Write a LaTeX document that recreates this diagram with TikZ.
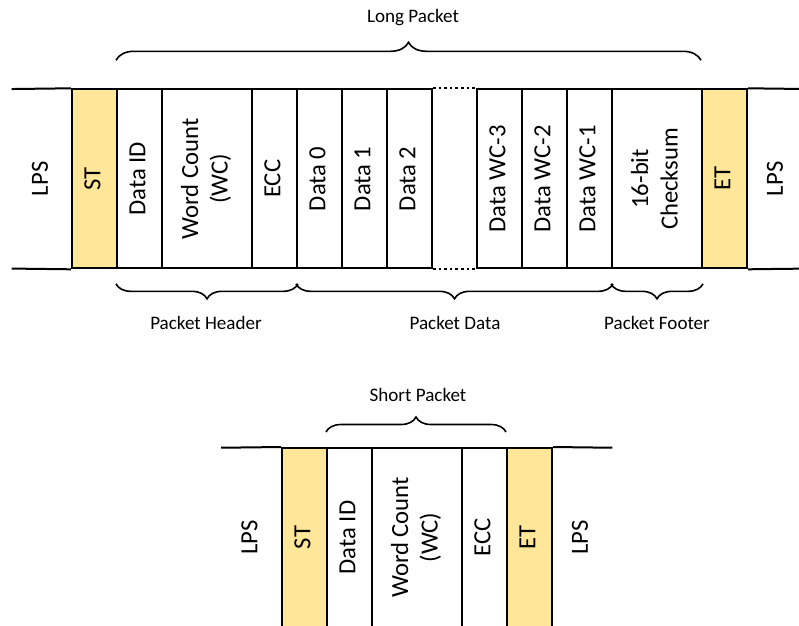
\documentclass[tikz,border=0pt]{standalone}
\usepackage{fontspec}
\setmainfont{Carlito}
\usepackage{graphicx}
\usetikzlibrary{decorations.pathreplacing}
\definecolor{stfill}{HTML}{FFE699}
\newcommand{\vtext}[1]{\rotatebox{90}{\begin{tabular}{@{}c@{}}#1\end{tabular}}}
\begin{document}
\begin{tikzpicture}[x=0.75pt,y=-0.75pt,
  bigfont/.style={font=\fontsize{18.5}{22.2}\selectfont},
  cellbox/.style={draw, line width=1.5pt, inner sep=0pt, minimum height=134.25pt, bigfont},
  narrow/.style={cellbox, minimum width=33.75pt},
  wide/.style={cellbox, minimum width=67.5pt},
  hilite/.style={fill=stfill},
  plain/.style={inner sep=0pt, minimum height=134.25pt, minimum width=45pt, bigfont},
  edge/.style={line width=1.5pt},
  gapline/.style={line width=1.5pt, dash pattern=on 2pt off 2.2pt},
  bracetop/.style={decorate, decoration={brace, amplitude=#1}, line width=1.2pt},
  bracebot/.style={decorate, decoration={brace, amplitude=#1, mirror}, line width=1.2pt},
  lbl/.style={font=\fontsize{14.3}{17}\selectfont, inner sep=0pt}
]
\useasboundingbox (0,0) rectangle (799,625);
\clip (0,0) rectangle (799,625);

% ---- Long packet ----
\node[plain] (lpsA) at (42,178.8) {\vtext{LPS}};
\node[narrow, hilite] (st) at (94.5,178.8) {\vtext{ST}};
\node[narrow] (did) at (139.5,178.8) {\vtext{Data ID}};
\node[wide] (wc) at (207,178.8) {\vtext{Word Count\\(WC)}};
\node[narrow] (ecc) at (274.5,178.8) {\vtext{ECC}};
\node[narrow] (d0) at (319.5,178.8) {\vtext{Data 0}};
\node[narrow] (d1) at (364.5,178.8) {\vtext{Data 1}};
\node[narrow] (d2) at (409.5,178.8) {\vtext{Data 2}};
\node[narrow] (w3) at (499.5,178.8) {\vtext{Data WC-3}};
\node[narrow] (w2) at (544.5,178.8) {\vtext{Data WC-2}};
\node[narrow] (w1) at (589.5,178.8) {\vtext{Data WC-1}};
\node[wide] (cs) at (657,178.8) {\vtext{16-bit\\Checksum}};
\node[narrow, hilite] (et) at (724.5,178.8) {\vtext{ET}};
\node[plain] (lpsB) at (777,178.8) {\vtext{LPS}};

\draw[edge] (lpsA.north west) -- (st.north west);
\draw[edge] (lpsA.south west) -- (st.south west);
\draw[gapline] (d2.north east) -- (w3.north west);
\draw[gapline] (d2.south east) -- (w3.south west);
\draw[edge] (et.north east) -- (lpsB.north east);
\draw[edge] (et.south east) -- (lpsB.south east);

\draw[bracetop=13.5pt] ([yshift=21pt]did.north west) -- ([yshift=21pt]et.north west);
\node[lbl] (lp) at (413,17.5) {Long Packet};

\draw[bracebot=11.25pt] ([yshift=-10.9pt]did.south west) -- ([yshift=-10.9pt]ecc.south east);
\draw[bracebot=11.25pt] ([yshift=-10.9pt]d0.south west) -- ([yshift=-10.9pt]w1.south east);
\draw[bracebot=11.25pt] ([yshift=-10.9pt]cs.south west) -- ([yshift=-10.9pt]cs.south east);
\node[lbl] (ph) at (206,323) {Packet Header};
\node[lbl] (pd) at (455,323) {Packet Data};
\node[lbl] (pf) at (657,323) {Packet Footer};

% ---- Short packet ----
\node[plain] (slpsA) at (251.5,537.5) {\vtext{LPS}};
\node[narrow, hilite] (sst) at (304.5,537.5) {\vtext{ST}};
\node[narrow] (sdid) at (349.5,537.5) {\vtext{Data ID}};
\node[wide] (swc) at (417,537.5) {\vtext{Word Count\\(WC)}};
\node[narrow] (secc) at (484.5,537.5) {\vtext{ECC}};
\node[narrow, hilite] (set) at (529.5,537.5) {\vtext{ET}};
\node[plain] (slpsB) at (582,537.5) {\vtext{LPS}};

\draw[edge] (slpsA.north west) -- (sst.north west);
\draw[edge] (set.north east) -- (slpsB.north east);

\draw[bracetop=11.25pt] ([yshift=11.25pt]sdid.north west) -- ([yshift=11.25pt]set.north west);
\node[lbl] (sp) at (418,395) {Short Packet};
\end{tikzpicture}
\end{document}
